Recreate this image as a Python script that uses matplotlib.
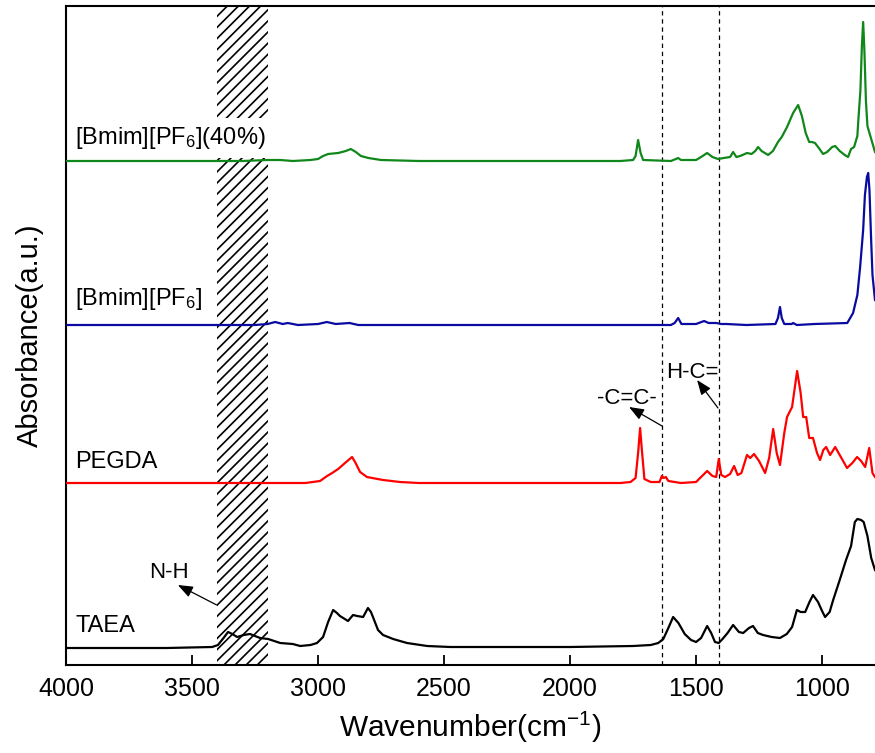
import matplotlib
matplotlib.use('Agg')
import matplotlib.pyplot as plt

plt.rcParams['font.family'] = ['Liberation Sans', 'DejaVu Sans']
plt.rcParams['mathtext.fontset'] = 'custom'
plt.rcParams['mathtext.rm'] = 'Liberation Sans'
plt.rcParams['mathtext.it'] = 'Liberation Sans'
plt.rcParams['hatch.linewidth'] = 1.2

# spectra: wavenumber (cm-1) and absorbance above each baseline (a.u.)
taea_wn = [4000, 3600, 3420, 3397, 3375, 3357, 3340, 3321, 3295, 3270, 3230, 3198, 3150, 3100, 3071,
           3030, 3004, 2980, 2960, 2940, 2925, 2913, 2881, 2861, 2845, 2821, 2802, 2790, 2782, 2762,
           2742, 2702, 2647, 2567, 2476, 2000, 1750, 1680, 1650, 1630, 1610, 1591, 1570, 1545, 1520,
           1500, 1480, 1456, 1440, 1425, 1410, 1395, 1375, 1353, 1330, 1313, 1290, 1274, 1255, 1234,
           1200, 1167, 1140, 1119, 1100, 1085, 1067, 1050, 1036, 1016, 1000, 988, 970, 956, 930,
           905, 885, 870, 860, 845, 835, 820, 805, 790]
taea_abs = [0.0, 0.0, 0.01, 0.03, 0.10, 0.16, 0.14, 0.11, 0.13, 0.14, 0.10, 0.09, 0.05, 0.04, 0.02,
            0.03, 0.05, 0.11, 0.26, 0.38, 0.35, 0.32, 0.27, 0.33, 0.32, 0.31, 0.40, 0.36, 0.31, 0.18,
            0.13, 0.09, 0.05, 0.02, 0.01, 0.01, 0.02, 0.03, 0.05, 0.09, 0.20, 0.31, 0.25, 0.14, 0.08,
            0.06, 0.10, 0.22, 0.15, 0.06, 0.05, 0.09, 0.15, 0.23, 0.16, 0.15, 0.20, 0.22, 0.15, 0.13,
            0.11, 0.10, 0.14, 0.21, 0.38, 0.36, 0.36, 0.46, 0.53, 0.46, 0.37, 0.31, 0.36, 0.48, 0.68,
            0.88, 1.02, 1.26, 1.29, 1.28, 1.26, 1.12, 0.90, 0.78]

pegda_wn = [4000, 3050, 2992, 2964, 2944, 2920, 2893, 2865, 2853, 2833, 2806, 2742, 2675, 2600,
            1800, 1760, 1740, 1730, 1722, 1714, 1705, 1680, 1645, 1636, 1628, 1620, 1610, 1560,
            1500, 1480, 1456, 1435, 1420, 1410, 1400, 1385, 1365, 1349, 1335, 1320, 1298, 1285,
            1270, 1250, 1226, 1210, 1194, 1180, 1167, 1150, 1139, 1119, 1099, 1085, 1075, 1063,
            1051, 1036, 1020, 1008, 995, 984, 968, 948, 930, 901, 880, 861, 845, 829, 813, 800, 790]
pegda_abs = [0.0, 0.0, 0.02, 0.07, 0.10, 0.14, 0.20, 0.26, 0.21, 0.11, 0.06, 0.03, 0.01, 0.0,
             0.0, 0.01, 0.05, 0.30, 0.55, 0.30, 0.04, 0.01, 0.01, 0.07, 0.05, 0.06, 0.02, 0.0,
             0.01, 0.06, 0.12, 0.07, 0.06, 0.24, 0.08, 0.06, 0.09, 0.17, 0.08, 0.10, 0.28, 0.25,
             0.29, 0.22, 0.10, 0.25, 0.54, 0.30, 0.18, 0.50, 0.66, 0.76, 1.12, 0.90, 0.66, 0.66,
             0.45, 0.45, 0.30, 0.23, 0.33, 0.36, 0.28, 0.36, 0.28, 0.15, 0.20, 0.26, 0.22, 0.16,
             0.35, 0.10, 0.06]

bmim_wn = [4000, 3250, 3200, 3170, 3140, 3120, 3080, 3000, 2965, 2930, 2875, 2840, 1800, 1600,
           1585, 1571, 1558, 1500, 1468, 1450, 1420, 1400, 1380, 1300, 1185, 1175, 1167, 1160,
           1150, 1120, 1115, 1100, 1030, 900, 877, 860, 849, 837, 830, 822, 817, 812, 806, 800, 790]
bmim_abs = [0.0, 0.0, 0.01, 0.03, 0.01, 0.02, 0.0, 0.01, 0.03, 0.01, 0.02, 0.0, 0.0, 0.0,
            0.02, 0.07, 0.01, 0.01, 0.04, 0.02, 0.02, 0.01, 0.01, 0.0, 0.01, 0.07, 0.18, 0.07,
            0.01, 0.01, 0.02, 0.0, 0.01, 0.02, 0.12, 0.30, 0.58, 0.95, 1.30, 1.48, 1.52, 1.35,
            0.90, 0.50, 0.25]

mix_wn = [4000, 3300, 3200, 3150, 3100, 3030, 3000, 2980, 2960, 2920, 2890, 2870, 2850, 2830,
          2800, 2750, 2600, 1800, 1750, 1740, 1730, 1720, 1710, 1600, 1580, 1571, 1560, 1500,
          1480, 1456, 1435, 1413, 1390, 1365, 1353, 1340, 1325, 1298, 1280, 1265, 1254, 1240,
          1214, 1195, 1175, 1160, 1139, 1115, 1095, 1080, 1065, 1051, 1040, 1028, 1010, 996,
          980, 960, 948, 930, 910, 897, 885, 873, 860, 855, 848, 842, 837, 832, 826, 820, 812,
          805, 790]
mix_abs = [0.0, 0.0, 0.01, 0.01, 0.0, 0.01, 0.02, 0.05, 0.07, 0.08, 0.10, 0.12, 0.09, 0.05,
           0.03, 0.01, 0.0, 0.0, 0.01, 0.05, 0.21, 0.08, 0.01, 0.0, 0.02, 0.03, 0.01, 0.01,
           0.04, 0.08, 0.04, 0.02, 0.03, 0.04, 0.09, 0.04, 0.05, 0.08, 0.07, 0.10, 0.14, 0.10,
           0.06, 0.10, 0.19, 0.24, 0.34, 0.48, 0.56, 0.45, 0.28, 0.19, 0.19, 0.18, 0.12, 0.07,
           0.09, 0.14, 0.15, 0.10, 0.06, 0.04, 0.12, 0.14, 0.25, 0.45, 0.70, 1.15, 1.39, 1.10,
           0.60, 0.35, 0.28, 0.22, 0.09]

names = ['TAEA', 'PEGDA', '[Bmim][PF$_6$]', '[Bmim][PF$_6$](40%)']
offsets = [0.17, 1.82, 3.40, 5.04]
label_y = [0.39, 2.03, 3.66, 5.27]
colors = ['black', '#ff0000', '#0a0aa0', '#10871a']
spectra = [(taea_wn, taea_abs), (pegda_wn, pegda_abs), (bmim_wn, bmim_abs), (mix_wn, mix_abs)]

fig = plt.figure(figsize=(8.75, 7.53), dpi=100)
ax = fig.add_axes([66 / 875, (753 - 665) / 753, 1 - 66 / 875, (665 - 6) / 753])

# N-H region
ax.axvspan(3400, 3200, facecolor='white', edgecolor='black', hatch='///', linewidth=0, zorder=1)

for (wn, ab), off, col in zip(spectra, offsets, colors):
    ax.plot(wn, [a + off for a in ab], color=col, lw=1.6, zorder=3)

for name, ly in zip(names, label_y):
    t = ax.text(3964, ly, name, fontsize=17, ha='left', va='center', zorder=2)
    if '40%' in name:
        t.set_bbox(dict(facecolor='white', edgecolor='none', boxstyle='square,pad=0.3'))

# C=C and H-C= markers
for wn in [1635, 1410]:
    ax.axvline(wn, color='black', lw=0.9, ls=(0, (3.5, 3)), zorder=2)

arrow = dict(arrowstyle='-|>,head_length=0.9,head_width=0.35', color='black', lw=0.9,
             shrinkA=0, shrinkB=0)
ax.annotate('', xy=(3556, 0.80), xytext=(3402, 0.60), arrowprops=arrow)
ax.text(3591, 0.92, 'N-H', fontsize=16, ha='center', va='center')
ax.annotate('', xy=(1766, 2.58), xytext=(1635, 2.39), arrowprops=arrow)
ax.text(1774, 2.67, '-C=C-', fontsize=16, ha='center', va='center')
ax.annotate('', xy=(1496, 2.85), xytext=(1413, 2.57), arrowprops=arrow)
ax.text(1516, 2.93, 'H-C=', fontsize=16, ha='center', va='center')

ax.set_xlim(4000, 790)
ax.set_ylim(0, 6.59)
ax.set_xticks([4000, 3500, 3000, 2500, 2000, 1500, 1000])
ax.set_yticks([])
ax.tick_params(axis='x', direction='in', length=7, width=1.3, labelsize=18, pad=9)
ax.spines['right'].set_visible(False)
for s in ['left', 'bottom', 'top']:
    ax.spines[s].set_linewidth(1.5)

ax.set_xlabel('Wavenumber(cm$^{-1}$)', fontsize=21.5, labelpad=6)
ax.set_ylabel('Absorbance(a.u.)', fontsize=21, labelpad=16)

plt.savefig('out.png', dpi=100)
